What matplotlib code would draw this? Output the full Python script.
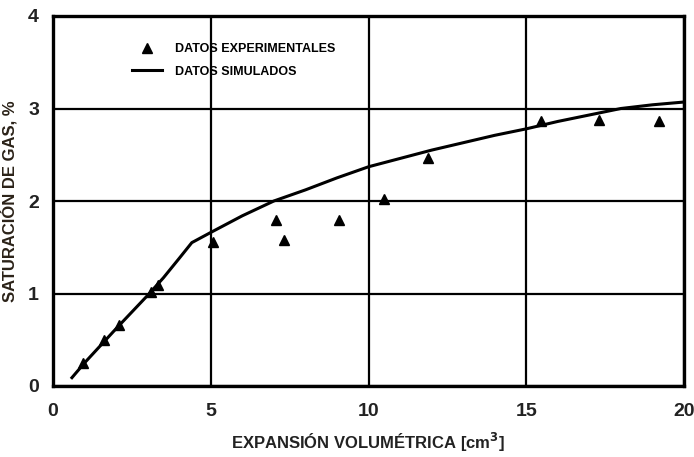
import numpy as np
import matplotlib.pyplot as plt
from matplotlib.lines import Line2D

plt.rcParams['font.family'] = ['Liberation Sans', 'DejaVu Sans']
plt.rcParams['font.weight'] = 'bold'

# experimental points
x_exp = [0.95, 1.62, 2.09, 3.10, 3.33, 5.07, 7.07, 7.32, 9.06, 10.49, 11.88, 15.47, 17.30, 19.20]
y_exp = [0.25, 0.50, 0.66, 1.02, 1.09, 1.56, 1.80, 1.58, 1.80, 2.02, 2.46, 2.86, 2.88, 2.87]

# simulated curve
x_sim = [0.6, 1.0, 2.0, 3.0, 3.5, 4.0, 4.4, 5.0, 6.0, 7.0, 8.0, 9.0, 10.0,
         11.0, 12.0, 13.0, 14.0, 15.0, 16.0, 17.0, 18.0, 19.0, 20.0]
y_sim = [0.09, 0.25, 0.62, 0.98, 1.17, 1.38, 1.55, 1.66, 1.84, 2.00, 2.12, 2.25, 2.37,
         2.46, 2.55, 2.63, 2.71, 2.78, 2.86, 2.93, 3.00, 3.04, 3.07]

x_ticks = [0, 5, 10, 15, 20]
y_ticks = [0, 1, 2, 3, 4]

fig = plt.figure(figsize=(6.94, 4.57), dpi=100)
ax = fig.add_axes([53 / 694, 1 - 386 / 457, 631 / 694, 370 / 457])

ax.plot(x_sim, y_sim, color='black', linewidth=2.2, zorder=3)
ax.plot(x_exp, y_exp, linestyle='none', marker='^', markersize=7,
        color='black', zorder=4)

ax.set_xlim(0, 20)
ax.set_ylim(0, 4)
ax.set_xticks(x_ticks)
ax.set_yticks(y_ticks)
ax.grid(True, color='black', linewidth=1.6)
ax.set_axisbelow(True)
for s in ax.spines.values():
    s.set_linewidth(2.4)
ax.tick_params(length=0, labelsize=14, colors='#222222')
ax.tick_params(axis='x', pad=12)
ax.tick_params(axis='y', pad=10)
for lbl in ax.get_xticklabels():
    lbl.set_fontweight('bold')
for lbl in ax.get_yticklabels():
    lbl.set_fontweight('bold')

ax.set_xlabel('EXPANSIÓN VOLUMÉTRICA [cm$^{\\mathbf{3}}$]', fontsize=12,
              fontweight='bold', color='#222222', labelpad=8)
ax.set_ylabel('SATURACIÓN DE GAS, %', fontsize=12, fontweight='bold',
              color='#2b2218', labelpad=8)

handles = [Line2D([], [], linestyle='none', marker='^', markersize=7, color='black'),
           Line2D([], [], color='black', linewidth=2.2)]
ax.legend(handles, ['DATOS EXPERIMENTALES', 'DATOS SIMULADOS'],
          loc='upper left', bbox_to_anchor=(0.118, 0.94), frameon=False,
          prop={'size': 9, 'weight': 'bold'}, handlelength=2.4,
          handletextpad=1.0, labelspacing=0.85, borderaxespad=0)

fig.savefig('out.png', dpi=100, facecolor='white')
